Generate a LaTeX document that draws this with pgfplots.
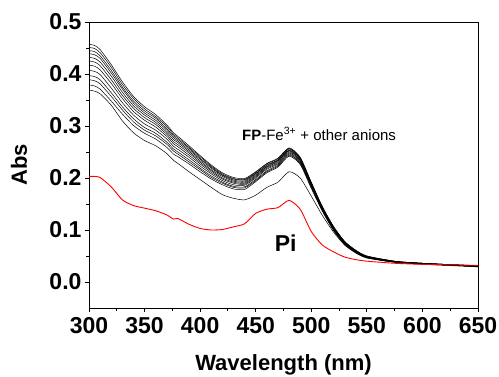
\documentclass[border=0pt]{standalone}
\usepackage{pgfplots}
\pgfplotsset{compat=1.18}
\usepackage{pgfplotstable}
\usepackage{fontspec}
\setmainfont{Liberation Sans}

\pgfplotstableread{
lam   c0    c1    c2    c3    c4    c5    c6    c7    c8    c9    c10   L     Pi
300  .457  .451  .445  .439  .432  .425  .417  .407  .397  .389  .379  .369  .203
305  .455  .449  .443  .437  .430  .423  .415  .405  .395  .387  .377  .367  .203
310  .447  .441  .435  .430  .423  .416  .408  .399  .389  .381  .371  .362  .201
320  .418  .413  .407  .402  .396  .389  .382  .373  .364  .357  .348  .340  .183
330  .385  .380  .375  .371  .365  .359  .353  .345  .337  .331  .323  .310  .158
340  .357  .353  .348  .344  .339  .334  .328  .321  .314  .308  .301  .287  .147
350  .337  .333  .329  .325  .321  .316  .311  .304  .297  .292  .286  .272  .142
360  .322  .318  .315  .311  .307  .303  .298  .292  .286  .281  .275  .262  .137
370  .302  .299  .295  .292  .288  .284  .280  .275  .269  .265  .259  .247  .129
376  .287  .284  .281  .278  .274  .270  .266  .261  .256  .252  .246  .234  .121
380  .280  .277  .274  .271  .268  .264  .260  .255  .250  .246  .241  .228  .122
390  .262  .259  .257  .254  .251  .248  .244  .240  .235  .231  .227  .212  .111
400  .243  .241  .238  .236  .233  .230  .227  .223  .219  .216  .212  .197  .103
410  .225  .223  .221  .219  .216  .214  .211  .208  .204  .201  .198  .182  .100
420  .210  .208  .206  .205  .203  .200  .198  .195  .192  .190  .187  .168  .101
430  .201  .199  .198  .196  .194  .192  .190  .187  .184  .182  .179  .161  .106
440  .199  .197  .196  .194  .192  .190  .188  .186  .183  .181  .178  .158  .112
450  .212  .211  .209  .208  .206  .204  .202  .200  .197  .195  .193  .167  .132
460  .228  .227  .225  .224  .222  .221  .219  .217  .214  .212  .210  .182  .140
470  .238  .237  .235  .234  .233  .231  .229  .227  .225  .223  .221  .192  .143
480  .258  .257  .256  .254  .253  .252  .250  .248  .246  .244  .242  .212  .157
490  .240  .239  .238  .237  .236  .234  .233  .231  .229  .228  .226  .200  .140
500  .192  .191  .190  .189  .188  .187  .186  .185  .183  .182  .180  .165  .097
510  .145  .144  .144  .143  .142  .141  .140  .139  .138  .137  .136  .128  .071
520  .107  .106  .106  .105  .105  .104  .103  .102  .101  .100  .099  .096  .058
530  .078  .078  .077  .077  .076  .075  .075  .074  .073  .073  .072  .071  .048
540  .061  .061  .060  .060  .060  .059  .059  .058  .057  .057  .056  .056  .043
550  .050  .050  .049  .049  .049  .048  .048  .048  .047  .047  .046  .047  .040
575  .040  .040  .040  .039  .039  .039  .039  .039  .038  .038  .038  .039  .036
600  .036  .036  .036  .036  .036  .035  .035  .035  .035  .035  .034  .035  .034
650  .031  .031  .031  .031  .030  .030  .030  .030  .030  .030  .029  .030  .032
}\spectra

\begin{document}
\begin{tikzpicture}
\path[use as bounding box] (-89pt,-69pt) rectangle (410pt,308pt);
\begin{axis}[
  scale only axis,
  width=389pt, height=286pt,
  xmin=300, xmax=650, ymin=-0.05, ymax=0.5,
  xtick={300,350,...,650},
  ytick={0,0.1,...,0.5},
  minor x tick num=1, minor y tick num=1,
  tick pos=left, tick align=outside,
  major tick length=4pt, minor tick length=3pt,
  every tick/.style={black, line width=0.9pt},
  axis line style={line width=0.9pt},
  /pgf/number format/assume math mode=true,
  /pgf/number format/fixed, /pgf/number format/fixed zerofill,
  /pgf/number format/precision=1,
  xticklabel style={font=\fontsize{23}{23}\selectfont\bfseries, yshift=-2pt},
  yticklabel style={font=\fontsize{23}{23}\selectfont\bfseries},
  xticklabel={\pgfmathprintnumber[fixed,precision=0]{\tick}},
  xlabel={Wavelength (nm)},
  ylabel={Abs},
  xlabel style={font=\fontsize{22}{22}\selectfont\bfseries, at={(axis description cs:0.5,-0.22)}, anchor=base},
  ylabel style={font=\fontsize{22}{22}\selectfont\bfseries, at={(axis description cs:-0.18,0.5)}, anchor=center},
  clip=false,
]
\foreach \c in {c0,c1,c2,c3,c4,c5,c6,c7,c8,c9,c10,L} {
  \addplot[black, line width=0.5pt, smooth, tension=0.4] table[x=lam, y=\c] {\spectra};
}
\addplot[red, line width=0.9pt, smooth, tension=0.4] table[x=lam, y=Pi] {\spectra};
\node[anchor=base, font=\fontsize{15}{15}\selectfont, inner sep=0pt] at (axis cs:507,0.273) {\textbf{FP}-Fe\textsuperscript{3+} + other anions};
\node[anchor=base, font=\fontsize{23}{23}\selectfont\bfseries, inner sep=0pt] at (axis cs:477,0.058) {Pi};
\end{axis}
\end{tikzpicture}
\end{document}
